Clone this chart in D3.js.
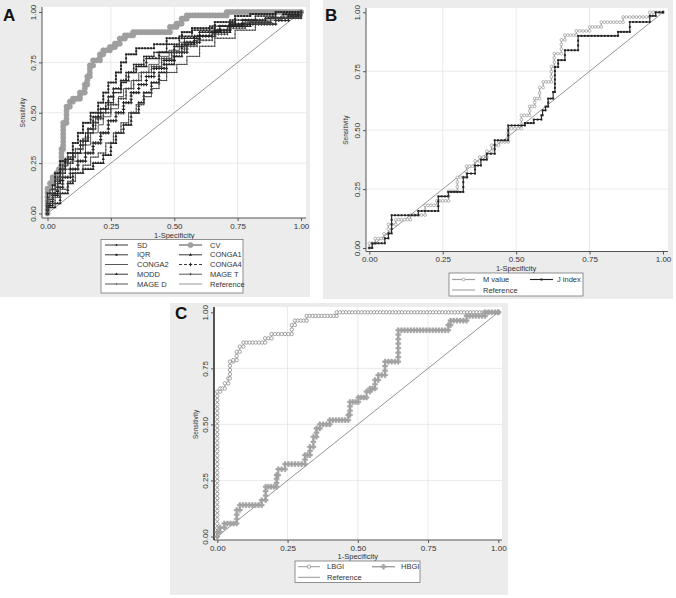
<!DOCTYPE html>
<html><head><meta charset="utf-8">
<script src="https://cdn.jsdelivr.net/npm/d3@7"></script>
<style>body{margin:0;background:#fff}svg{display:block}text{font-family:"Liberation Sans",Arial,sans-serif}</style>
</head><body>
<script>
// ---------------- DATA ----------------
const tickValues = [0, 0.25, 0.5, 0.75, 1];
const tickLabels = ["0.00", "0.25", "0.50", "0.75", "1.00"];
const xTitle = "1-Specificity";
const yTitle = "Sensitivity";
const nControls = 90;   // approx sample sizes (marker spacing)
const nCases = 52;

// Panel A series (ROC corner points: [1-specificity, sensitivity])
const seriesA_names = ["SD","CV","IQR","CONGA1","CONGA2","CONGA4","MODD","MAGE T","MAGE D","Reference"];
const A_SD = [[0,0],[0,0.06],[0.02,0.1],[0.03,0.16],[0.05,0.2],[0.07,0.25],[0.1,0.3],[0.13,0.34],[0.15,0.4],[0.18,0.45],[0.2,0.5],[0.23,0.55],[0.26,0.6],[0.29,0.65],[0.31,0.7],[0.34,0.74],[0.38,0.78],[0.42,0.8],[0.47,0.84],[0.52,0.88],[0.57,0.91],[0.64,0.93],[0.72,0.96],[0.82,0.98],[0.9,1],[1,1]];
const A_CV = [[0,0],[0,0.124],[0.01,0.15],[0.02,0.18],[0.035,0.2],[0.045,0.22],[0.055,0.32],[0.062,0.45],[0.075,0.53],[0.088,0.555],[0.1,0.57],[0.128,0.6],[0.147,0.64],[0.157,0.68],[0.167,0.735],[0.18,0.76],[0.207,0.79],[0.22,0.81],[0.246,0.826],[0.266,0.843],[0.285,0.868],[0.305,0.884],[0.338,0.9],[0.483,0.926],[0.509,0.942],[0.529,0.967],[0.549,0.983],[0.707,1],[1,1]];
const A_IQR = [[0,0],[0,0.1],[0.02,0.14],[0.03,0.2],[0.05,0.26],[0.08,0.3],[0.1,0.35],[0.12,0.4],[0.14,0.45],[0.17,0.5],[0.2,0.55],[0.22,0.6],[0.24,0.65],[0.27,0.7],[0.29,0.75],[0.31,0.79],[0.35,0.82],[0.42,0.84],[0.47,0.87],[0.53,0.9],[0.57,0.92],[0.66,0.95],[0.74,0.98],[0.8,0.99],[0.9,1],[1,1]];
const A_CONGA1 = [[0,0],[0,0.04],[0.02,0.1],[0.04,0.15],[0.05,0.22],[0.07,0.27],[0.1,0.3],[0.13,0.36],[0.16,0.42],[0.18,0.48],[0.21,0.52],[0.24,0.58],[0.26,0.62],[0.29,0.66],[0.32,0.7],[0.35,0.73],[0.39,0.77],[0.44,0.8],[0.5,0.83],[0.54,0.87],[0.6,0.9],[0.68,0.93],[0.77,0.96],[0.86,0.97],[0.93,0.99],[1,1]];
const A_CONGA2 = [[0,0],[0,0.08],[0.01,0.12],[0.03,0.17],[0.06,0.22],[0.09,0.26],[0.12,0.3],[0.15,0.34],[0.17,0.4],[0.2,0.44],[0.22,0.48],[0.25,0.52],[0.28,0.58],[0.3,0.62],[0.33,0.66],[0.36,0.7],[0.4,0.74],[0.44,0.78],[0.48,0.81],[0.52,0.85],[0.58,0.88],[0.64,0.91],[0.72,0.94],[0.8,0.96],[0.92,0.98],[1,1]];
const A_CONGA4 = [[0,0],[0,0.05],[0.02,0.09],[0.04,0.13],[0.06,0.18],[0.09,0.22],[0.12,0.26],[0.15,0.3],[0.18,0.35],[0.21,0.4],[0.24,0.46],[0.27,0.5],[0.3,0.55],[0.33,0.6],[0.36,0.64],[0.39,0.68],[0.42,0.72],[0.46,0.76],[0.5,0.8],[0.55,0.85],[0.6,0.88],[0.66,0.91],[0.72,0.94],[0.9,0.958],[0.95,0.98],[1,1]];
const A_MODD = [[0,0],[0,0.03],[0.03,0.05],[0.05,0.1],[0.08,0.15],[0.1,0.2],[0.14,0.22],[0.18,0.25],[0.22,0.29],[0.25,0.35],[0.27,0.4],[0.3,0.44],[0.33,0.5],[0.36,0.55],[0.38,0.6],[0.41,0.65],[0.44,0.7],[0.47,0.74],[0.5,0.78],[0.53,0.84],[0.58,0.88],[0.65,0.9],[0.72,0.93],[0.8,0.95],[0.88,0.97],[1,1]];
const A_MAGET = [[0,0],[0,0.07],[0.02,0.12],[0.04,0.18],[0.06,0.24],[0.08,0.28],[0.11,0.32],[0.14,0.37],[0.16,0.42],[0.19,0.47],[0.22,0.5],[0.25,0.54],[0.28,0.57],[0.31,0.62],[0.34,0.66],[0.37,0.7],[0.41,0.73],[0.45,0.77],[0.49,0.8],[0.54,0.83],[0.59,0.86],[0.65,0.89],[0.71,0.92],[0.78,0.95],[0.88,0.97],[1,1]];
const A_MAGED = [[0,0],[0,0.05],[0.03,0.08],[0.05,0.12],[0.08,0.16],[0.11,0.2],[0.14,0.24],[0.17,0.28],[0.2,0.3],[0.23,0.35],[0.26,0.4],[0.29,0.45],[0.32,0.5],[0.35,0.54],[0.38,0.58],[0.41,0.62],[0.44,0.66],[0.47,0.7],[0.51,0.74],[0.55,0.78],[0.6,0.83],[0.66,0.87],[0.74,0.91],[0.82,0.94],[0.9,0.97],[1,1]];

// Panel B series
const seriesB_names = ["M value","J index","Reference"];
const B_Mvalue = [[0,0],[0,0.02],[0.02,0.04],[0.05,0.06],[0.065,0.1],[0.09,0.12],[0.14,0.14],[0.19,0.181],[0.23,0.2],[0.27,0.24],[0.3,0.3],[0.331,0.347],[0.36,0.37],[0.376,0.386],[0.4,0.41],[0.416,0.436],[0.44,0.45],[0.473,0.507],[0.518,0.563],[0.546,0.601],[0.563,0.634],[0.58,0.681],[0.592,0.705],[0.62,0.77],[0.63,0.825],[0.654,0.883],[0.666,0.903],[0.705,0.921],[0.75,0.938],[0.79,0.958],[0.864,0.98],[0.955,1],[1,1]];
const B_Jindex = [[0,0],[0.01,0.02],[0.053,0.041],[0.065,0.062],[0.076,0.139],[0.167,0.157],[0.235,0.219],[0.269,0.238],[0.32,0.3],[0.333,0.316],[0.36,0.35],[0.38,0.375],[0.4,0.4],[0.427,0.457],[0.473,0.52],[0.53,0.53],[0.56,0.545],[0.586,0.563],[0.59,0.584],[0.6,0.6],[0.609,0.634],[0.626,0.662],[0.632,0.768],[0.643,0.797],[0.666,0.839],[0.711,0.9],[0.847,0.917],[0.887,0.959],[0.955,0.985],[0.975,1],[1,1]];

// Panel C series
const seriesC_names = ["LBGI","HBGI","Reference"];
const C_LBGI = [[0,0],[0,0.646],[0.01,0.66],[0.027,0.683],[0.039,0.705],[0.045,0.78],[0.057,0.787],[0.069,0.824],[0.08,0.847],[0.093,0.865],[0.17,0.884],[0.193,0.903],[0.265,0.943],[0.276,0.963],[0.318,0.984],[0.425,1],[1,1]];
const C_HBGI = [[0,0],[0,0.02],[0.01,0.04],[0.025,0.058],[0.069,0.118],[0.08,0.14],[0.158,0.162],[0.172,0.222],[0.211,0.274],[0.217,0.3],[0.241,0.323],[0.312,0.363],[0.33,0.4],[0.342,0.445],[0.353,0.482],[0.365,0.5],[0.4,0.519],[0.466,0.542],[0.472,0.6],[0.502,0.62],[0.531,0.646],[0.543,0.66],[0.561,0.698],[0.573,0.72],[0.597,0.78],[0.644,0.92],[0.822,0.943],[0.83,0.963],[0.887,0.984],[0.953,1],[1,1]];
const referenceLine = [[0,0],[1,1]];

// ---------------- DRAWING ----------------
const svg = d3.select("body").append("svg").attr("width",676).attr("height",598);
const FONT = '"Liberation Sans",Arial,sans-serif';

function markerPath(type, s){
  switch(type){
    case "circle": return d3.symbol(d3.symbolCircle, s*s*3.14)();
    case "square": return d3.symbol(d3.symbolSquare, s*s*4)();
    case "triangle": return d3.symbol(d3.symbolTriangle, s*s*3)();
    case "cross": return d3.symbol(d3.symbolCross, s*s*5)();
    case "x": return d3.symbol(d3.symbolTimes || d3.symbolX, s*s*4)();
    case "diamond": return d3.symbol(d3.symbolDiamond, s*s*3)();
    default: return d3.symbol(d3.symbolCircle, s*s*3.14)();
  }
}

function markerPoints(pts){
  const out=[];
  for(let i=0;i<pts.length;i++){
    const [x,y]=pts[i];
    out.push([x,y]);
    if(i<pts.length-1){
      const [x2,y2]=pts[i+1];
      const nh=Math.round((x2-x)*nControls);
      for(let k=1;k<nh;k++) out.push([x+(x2-x)*k/nh,y]);
      if(x2>x) out.push([x2,y]);
      const nv=Math.round((y2-y)*nCases);
      for(let k=1;k<nv;k++) out.push([x2,y+(y2-y)*k/nv]);
    }
  }
  return out;
}

function panel(cfg){
  const g = svg.append("g");
  g.append("rect").attr("x",cfg.box[0]).attr("y",cfg.box[1]).attr("width",cfg.box[2]-cfg.box[0]).attr("height",cfg.box[3]-cfg.box[1]).attr("fill","#ececec");
  g.append("rect").attr("x",cfg.plot[0]).attr("y",cfg.plot[1]).attr("width",cfg.plot[2]-cfg.plot[0]).attr("height",cfg.plot[3]-cfg.plot[1]).attr("fill","#fff");
  const x = d3.scaleLinear().domain([0,1]).range([cfg.xr[0],cfg.xr[1]]);
  const y = d3.scaleLinear().domain([0,1]).range([cfg.yr[0],cfg.yr[1]]);
  // grid
  g.selectAll(null).data(tickValues.slice(1,4)).join("line")
    .attr("x1",d=>x(d)).attr("x2",d=>x(d)).attr("y1",cfg.plot[1]).attr("y2",cfg.plot[3])
    .attr("stroke","#e4e4e4").attr("stroke-width",0.8);
  g.selectAll(null).data(tickValues.slice(1,4)).join("line")
    .attr("y1",d=>y(d)).attr("y2",d=>y(d)).attr("x1",cfg.plot[0]).attr("x2",cfg.plot[2])
    .attr("stroke","#e4e4e4").attr("stroke-width",0.8);
  // axes
  const ac = cfg.axisC || "#555";
  const xAxis = d3.axisBottom(x).tickValues(tickValues).tickFormat((d,i)=>tickLabels[i]).tickSize(3).tickSizeOuter(0);
  const gx = g.append("g").attr("transform",`translate(0,${cfg.axisY})`).call(xAxis);
  gx.select(".domain").attr("d",`M${cfg.plot[0]},0H${cfg.plot[2]}`).attr("stroke","#555").attr("stroke-width",1);
  gx.selectAll(".tick line").attr("stroke","#555");
  gx.selectAll(".tick text").attr("font-family",FONT).attr("font-size",8).attr("fill","#333").attr("dy","0.95em").attr("y",3);
  const yAxis = d3.axisLeft(y).tickValues(tickValues).tickFormat((d,i)=>tickLabels[i]).tickSize(3).tickSizeOuter(0);
  const gy = g.append("g").attr("transform",`translate(${cfg.axisX},0)`).call(yAxis);
  gy.select(".domain").attr("d",`M0,${cfg.plot[1]}V${cfg.plot[3]}`).attr("stroke",ac).attr("stroke-width",cfg.axisW||1);
  gy.selectAll(".tick line").attr("stroke","#555");
  gy.selectAll(".tick text").attr("font-family",FONT).attr("font-size",8).attr("fill","#333")
    .attr("x",0).attr("dy",0).attr("text-anchor","middle").attr("transform","translate(-6,0) rotate(-90)");
  // titles
  g.append("text").attr("x",(x(0)+x(1))/2).attr("y",cfg.xTitleY).attr("text-anchor","middle").attr("font-size",7.5).attr("fill","#333").text(xTitle);
  g.append("text").attr("transform",`translate(${cfg.yTitleX},${(y(0)+y(1))/2}) rotate(-90)`).attr("text-anchor","middle").attr("font-size",6.5).attr("fill","#333").text(yTitle);
  g.append("text").attr("x",cfg.letter[0]).attr("y",cfg.letter[1]).attr("font-size",17).attr("font-weight","bold").attr("fill","#111").text(cfg.letterText);
  // reference
  const line = d3.line().x(d=>x(d[0])).y(d=>y(d[1]));
  const stepLine = d3.line().x(d=>x(d[0])).y(d=>y(d[1])).curve(d3.curveStepAfter);
  const plotG = g.append("g");
  plotG.append("path").attr("d",line(referenceLine)).attr("fill","none").attr("stroke","#8a8a8a").attr("stroke-width",0.9);
  cfg.series.forEach(s=>{
    plotG.append("path").attr("d",stepLine(s.data)).attr("fill","none").attr("stroke",s.color).attr("stroke-width",s.lw||0.9).attr("stroke-dasharray",s.dash||null);
    const pts = markerPoints(s.data);
    plotG.selectAll(null).data(pts).join("path")
      .attr("transform",d=>`translate(${x(d[0])},${y(d[1])})`)
      .attr("d",markerPath(s.marker,s.ms))
      .attr("fill",s.mfill).attr("stroke",s.mstroke||"none").attr("stroke-width",s.msw||0.6);
  });
  // legend
  const L = cfg.legend;
  g.append("rect").attr("x",L.box[0]).attr("y",L.box[1]).attr("width",L.box[2]-L.box[0]).attr("height",L.box[3]-L.box[1]).attr("fill","#fff").attr("stroke","#777").attr("stroke-width",0.8);
  const items = cfg.series.concat([{name:"Reference",color:"#8a8a8a",ref:true}]);
  items.forEach((s,i)=>{
    const col=i%2, row=Math.floor(i/2);
    const lx0=L.cols[col][0], lx1=L.cols[col][1], tx=L.cols[col][2], ly=L.rows[row];
    g.append("line").attr("x1",lx0).attr("x2",lx1).attr("y1",ly).attr("y2",ly).attr("stroke",s.color).attr("stroke-width",s.ref?0.9:(s.lw||0.9)).attr("stroke-dasharray",s.dash||null);
    if(!s.ref){
      g.append("path").attr("transform",`translate(${(lx0+lx1)/2},${ly})`).attr("d",markerPath(s.marker,s.ms))
        .attr("fill",s.mfill).attr("stroke",s.mstroke||"none").attr("stroke-width",s.msw||0.6);
    }
    g.append("text").attr("x",tx).attr("y",ly).attr("dy","0.35em").attr("font-size",7.5).attr("fill","#333").text(s.name);
  });
}

const dark="#222";
panel({
  box:[0,0,310,297], plot:[42,7,306,218], xr:[47.5,301], yr:[213.5,12], axisX:42, axisY:218,
  xTitleY:238, yTitleX:25, letter:[3,21], letterText:"A",
  series:[
    {name:seriesA_names[0],data:A_SD,color:dark,marker:"circle",ms:0.9,mfill:dark},
    {name:seriesA_names[1],data:A_CV,color:"#9a9a9a",lw:1.8,marker:"circle",ms:2.6,mfill:"#a0a0a0",mstroke:"#999"},
    {name:seriesA_names[2],data:A_IQR,color:dark,marker:"square",ms:1.0,mfill:dark},
    {name:seriesA_names[3],data:A_CONGA1,color:dark,marker:"triangle",ms:1.2,mfill:dark},
    {name:seriesA_names[4],data:A_CONGA2,color:"#444",marker:"x",ms:1.2,mfill:"#444"},
    {name:seriesA_names[5],data:A_CONGA4,color:dark,dash:"3,2",marker:"cross",ms:1.1,mfill:dark},
    {name:seriesA_names[6],data:A_MODD,color:dark,marker:"triangle",ms:1.2,mfill:dark},
    {name:seriesA_names[7],data:A_MAGET,color:"#444",marker:"diamond",ms:1.0,mfill:"#444"},
    {name:seriesA_names[8],data:A_MAGED,color:"#444",marker:"circle",ms:0.7,mfill:"#444"}
  ],
  legend:{box:[101,239.5,243,293],cols:[[105,128,137],[179,202,210]],rows:[245,254.8,264.5,274.2,284]}
});
panel({
  box:[323,0,673,299], plot:[366,8,668,251.5], xr:[369.3,663], yr:[248,12.3], axisX:366, axisY:251.5,
  xTitleY:271, yTitleX:348, letter:[325,21], letterText:"B",
  series:[
    {name:seriesB_names[0],data:B_Mvalue,color:"#a0a0a0",lw:1.2,marker:"circle",ms:1.4,mfill:"#fff",mstroke:"#999",msw:0.7},
    {name:seriesB_names[1],data:B_Jindex,color:"#222",lw:1.1,marker:"square",ms:1.0,mfill:"#222"}
  ],
  legend:{box:[449,273,583,296],cols:[[452,475,483],[530,553,557]],rows:[279.5,290]}
});
panel({
  box:[170,303,508,595], plot:[214,307,502,540], xr:[217.3,498.3], yr:[536.5,312.3], axisX:214, axisY:540, axisW:1.4, axisC:"#111",
  xTitleY:559, yTitleX:198, letter:[175,319], letterText:"C",
  series:[
    {name:seriesC_names[0],data:C_LBGI,color:"#999",lw:1,marker:"circle",ms:1.7,mfill:"#fff",mstroke:"#808080",msw:0.7},
    {name:seriesC_names[1],data:C_HBGI,color:"#999",lw:1.3,marker:"cross",ms:1.7,mfill:"#a5a5a5",mstroke:"#999",msw:0.4}
  ],
  legend:{box:[295,561,420,582.5],cols:[[298,320,327],[372,395,401]],rows:[566.7,577.3]}
});
</script>
</body></html>
